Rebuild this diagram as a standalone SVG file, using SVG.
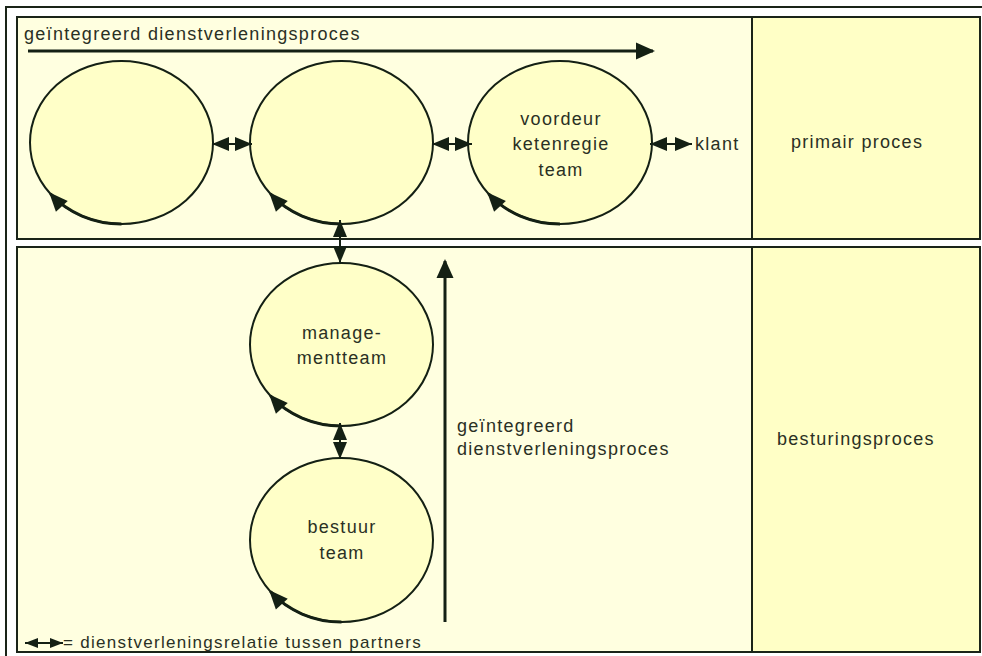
<svg xmlns="http://www.w3.org/2000/svg" width="982" height="656" viewBox="0 0 982 656">
  <defs>
    <style>
      .frame { fill: none; stroke: #1a2418; stroke-width: 2; }
      .panel { fill: #FFFFE0; stroke: #1a2418; stroke-width: 2; }
      .column { fill: #FFFFC6; stroke: #1a2418; stroke-width: 2; }
      .node { fill: #FFFFC8; stroke: #142014; stroke-width: 2; }
      .cycle { fill: none; stroke: #142014; stroke-width: 3; marker-end: url(#cycleHead); }
      .rel { fill: none; stroke: #142014; stroke-width: 2; marker-start: url(#relHead); marker-end: url(#relHead); }
      .flow { fill: none; stroke: #142014; stroke-width: 3; marker-end: url(#flowHead); }
      text { font-family: "Liberation Sans", Arial, sans-serif; font-size: 18px; fill: #2a3024; letter-spacing: 1.3px; }
      .mid { text-anchor: middle; }
      .legend { font-size: 17px; }
    </style>
    <marker id="relHead" markerUnits="userSpaceOnUse" markerWidth="18" markerHeight="14" refX="17" refY="7" orient="auto-start-reverse" overflow="visible">
      <path d="M0,0 L17,7 L0,14 Z" fill="#142014"/>
    </marker>
    <marker id="flowHead" markerUnits="userSpaceOnUse" markerWidth="19" markerHeight="17" refX="17" refY="8.5" orient="auto" overflow="visible">
      <path d="M0,0 L19,8.5 L0,17 Z" fill="#142014"/>
    </marker>
    <marker id="cycleHead" markerUnits="userSpaceOnUse" markerWidth="19" markerHeight="16" refX="17" refY="8" orient="auto" overflow="visible">
      <path d="M0,0 L19,8 L0,16 Z" fill="#142014"/>
    </marker>
    <marker id="legendHead" markerUnits="userSpaceOnUse" markerWidth="13" markerHeight="10" refX="13" refY="5" orient="auto-start-reverse" overflow="visible">
      <path d="M0,0 L13,5 L0,10 Z" fill="#142014"/>
    </marker>
  </defs>

  <rect width="982" height="656" fill="#ffffff"/>

  <!-- outer frame -->
  <rect class="frame" x="6" y="7" width="990" height="660"/>

  <!-- primary process band -->
  <g id="band-primary">
    <rect class="panel" x="17" y="17" width="963" height="222"/>
    <rect class="column" x="752" y="17" width="228" height="222"/>
    <text x="791" y="148">primair proces</text>
    <text x="24" y="40">geïntegreerd dienstverleningsproces</text>
  </g>

  <!-- steering process band -->
  <g id="band-steering">
    <rect class="panel" x="17" y="247" width="963" height="405"/>
    <rect class="column" x="752" y="247" width="228" height="405"/>
    <text x="777" y="445">besturingsproces</text>
    <text x="457" y="432">geïntegreerd</text>
    <text x="457" y="455">dienstverleningsproces</text>
  </g>

  <!-- team nodes -->
  <g id="team-1">
    <ellipse class="node" cx="121.5" cy="142.5" rx="91.5" ry="81.5"/>
    <path class="cycle" d="M121.5,224 A91.5,81.5 0 0 1 50.4,193.8"/>
  </g>
  <g id="team-2">
    <ellipse class="node" cx="341.5" cy="142.5" rx="91.5" ry="81.5"/>
    <path class="cycle" d="M341.5,224 A91.5,81.5 0 0 1 270.4,193.8"/>
  </g>
  <g id="voordeur">
    <ellipse class="node" cx="560" cy="142.5" rx="92" ry="81.5"/>
    <path class="cycle" d="M560,224 A92,81.5 0 0 1 488.5,193.8"/>
    <text class="mid" x="561" y="125">voordeur</text>
    <text class="mid" x="561" y="150">ketenregie</text>
    <text class="mid" x="561" y="176">team</text>
  </g>
  <g id="managementteam">
    <ellipse class="node" cx="341.5" cy="344.5" rx="91.5" ry="81.5"/>
    <path class="cycle" d="M341.5,426 A91.5,81.5 0 0 1 270.4,395.8"/>
    <text class="mid" x="342" y="339">manage-</text>
    <text class="mid" x="342" y="364">mentteam</text>
  </g>
  <g id="bestuurteam">
    <ellipse class="node" cx="341.5" cy="540" rx="91.5" ry="82"/>
    <path class="cycle" d="M341.5,622 A91.5,82 0 0 1 270.4,591.6"/>
    <text class="mid" x="342" y="533">bestuur</text>
    <text class="mid" x="342" y="559">team</text>
  </g>
  <g id="klant">
    <text x="695" y="150">klant</text>
  </g>

  <!-- connectors -->
  <g id="connectors">
    <line class="rel" x1="212" y1="144" x2="252" y2="144"/>
    <line class="rel" x1="432" y1="144" x2="472" y2="144"/>
    <line class="rel" x1="650" y1="144" x2="692" y2="144"/>
    <line class="rel" x1="340" y1="220" x2="340" y2="263"/>
    <line class="rel" x1="340" y1="423" x2="340" y2="459"/>
    <line class="flow" x1="28" y1="51" x2="653" y2="51"/>
    <line class="flow" x1="445" y1="622" x2="445" y2="261"/>
  </g>

  <!-- legend -->
  <g id="legend">
    <line x1="25" y1="643" x2="63" y2="643" stroke="#142014" stroke-width="2" marker-start="url(#legendHead)" marker-end="url(#legendHead)"/>
    <text class="legend" x="63" y="648">= dienstverleningsrelatie tussen partners</text>
  </g>
</svg>
